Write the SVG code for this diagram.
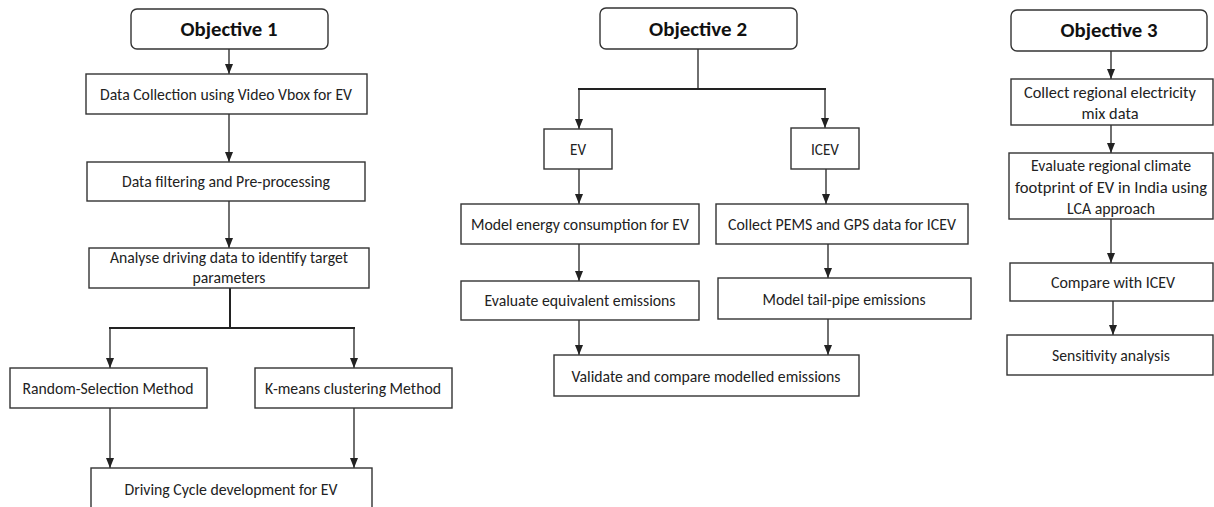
<svg xmlns="http://www.w3.org/2000/svg" width="1214" height="507" viewBox="0 0 1214 507">
<defs>
<marker id="ah" viewBox="0 0 10 8" refX="10" refY="4" markerWidth="10" markerHeight="8" markerUnits="userSpaceOnUse" orient="auto">
<path d="M0,0 L10,4 L0,8 z" fill="#222"/>
</marker>
<style>
.box{fill:#fff;stroke:#333;stroke-width:1.4}
.obj{fill:#fff;stroke:#333;stroke-width:1.4}
.t{font-family:"Carlito","Lato","Liberation Sans",sans-serif;font-size:16px;fill:#222;text-anchor:middle}
.h{font-family:"Carlito","Lato","Liberation Sans",sans-serif;font-size:20px;font-weight:bold;fill:#111;text-anchor:middle}
.c{fill:none;stroke:#222;stroke-width:1.3}
.a{fill:none;stroke:#222;stroke-width:1.3;marker-end:url(#ah)}
.b{fill:none;stroke:#222;stroke-width:2}
</style>
</defs>
<rect width="1214" height="507" fill="#fff"/>
<g id="connectors">
<line class="a" x1="229" y1="49" x2="229" y2="74"/>
<line class="a" x1="229" y1="114" x2="229" y2="162"/>
<line class="a" x1="229" y1="201" x2="229" y2="248"/>
<line class="b" x1="230" y1="288" x2="230" y2="328"/>
<line class="b" x1="109" y1="328" x2="355" y2="328"/>
<line class="a" x1="110" y1="328" x2="110" y2="368"/>
<line class="a" x1="354" y1="328" x2="354" y2="368"/>
<line class="a" x1="110" y1="408" x2="110" y2="468"/>
<line class="a" x1="354" y1="408" x2="354" y2="468"/>
<line class="c" x1="698" y1="49" x2="698" y2="89"/>
<line class="b" x1="578" y1="89" x2="826" y2="89"/>
<line class="a" x1="579" y1="89" x2="579" y2="129"/>
<line class="a" x1="825" y1="89" x2="825" y2="128"/>
<line class="a" x1="579" y1="169" x2="579" y2="204"/>
<line class="a" x1="826" y1="169" x2="826" y2="204"/>
<line class="a" x1="579" y1="244" x2="579" y2="281"/>
<line class="a" x1="828" y1="244" x2="828" y2="278"/>
<line class="a" x1="579" y1="320" x2="579" y2="355"/>
<line class="a" x1="828" y1="319" x2="828" y2="355"/>
<line class="a" x1="1111" y1="51" x2="1111" y2="79"/>
<line class="a" x1="1111" y1="125" x2="1111" y2="153"/>
<line class="a" x1="1111" y1="219" x2="1111" y2="263"/>
<line class="a" x1="1113" y1="301" x2="1113" y2="335"/>
</g>
<g id="objective1">
<rect class="obj" x="131" y="9" width="197" height="40" rx="6"/>
<text class="h" x="229" y="36" textLength="97" lengthAdjust="spacingAndGlyphs">Objective 1</text>
</g>
<g id="data-collection">
<rect class="box" x="86" y="74" width="281" height="40"/>
<text class="t" x="226" y="100" textLength="252" lengthAdjust="spacingAndGlyphs">Data Collection using Video Vbox for EV</text>
</g>
<g id="data-filtering">
<rect class="box" x="87" y="162" width="278" height="39"/>
<text class="t" x="226" y="187" textLength="208" lengthAdjust="spacingAndGlyphs">Data filtering and Pre-processing</text>
</g>
<g id="analyse">
<rect class="box" x="89" y="248" width="280" height="40"/>
<text class="t" x="229" y="263" textLength="238" lengthAdjust="spacingAndGlyphs">Analyse driving data to identify target</text>
<text class="t" x="229" y="283" textLength="73" lengthAdjust="spacingAndGlyphs">parameters</text>
</g>
<g id="random-selection">
<rect class="box" x="10" y="368" width="197" height="40"/>
<text class="t" x="108" y="394" textLength="171" lengthAdjust="spacingAndGlyphs">Random-Selection Method</text>
</g>
<g id="kmeans">
<rect class="box" x="255" y="368" width="197" height="40"/>
<text class="t" x="353" y="394" textLength="176" lengthAdjust="spacingAndGlyphs">K-means clustering Method</text>
</g>
<g id="driving-cycle">
<rect class="box" x="91" y="468" width="281" height="42"/>
<text class="t" x="231" y="495" textLength="213" lengthAdjust="spacingAndGlyphs">Driving Cycle development for EV</text>
</g>
<g id="objective2">
<rect class="obj" x="600" y="8" width="197" height="41" rx="6"/>
<text class="h" x="698" y="36" textLength="98" lengthAdjust="spacingAndGlyphs">Objective 2</text>
</g>
<g id="ev">
<rect class="box" x="544" y="129" width="68" height="40"/>
<text class="t" x="578" y="155" textLength="16" lengthAdjust="spacingAndGlyphs">EV</text>
</g>
<g id="icev">
<rect class="box" x="791" y="128" width="68" height="41"/>
<text class="t" x="825" y="155" textLength="28" lengthAdjust="spacingAndGlyphs">ICEV</text>
</g>
<g id="model-energy">
<rect class="box" x="461" y="204" width="238" height="40"/>
<text class="t" x="580" y="230" textLength="218" lengthAdjust="spacingAndGlyphs">Model energy consumption for EV</text>
</g>
<g id="collect-pems">
<rect class="box" x="716" y="204" width="252" height="40"/>
<text class="t" x="842" y="230" textLength="228" lengthAdjust="spacingAndGlyphs">Collect PEMS and GPS data for ICEV</text>
</g>
<g id="evaluate-equivalent">
<rect class="box" x="461" y="281" width="238" height="39"/>
<text class="t" x="580" y="306" textLength="191" lengthAdjust="spacingAndGlyphs">Evaluate equivalent emissions</text>
</g>
<g id="model-tailpipe">
<rect class="box" x="718" y="278" width="253" height="41"/>
<text class="t" x="844" y="305" textLength="163" lengthAdjust="spacingAndGlyphs">Model tail-pipe emissions</text>
</g>
<g id="validate">
<rect class="box" x="554" y="355" width="305" height="41"/>
<text class="t" x="706" y="382" textLength="269" lengthAdjust="spacingAndGlyphs">Validate and compare modelled emissions</text>
</g>
<g id="objective3">
<rect class="obj" x="1011" y="10" width="196" height="41" rx="6"/>
<text class="h" x="1109" y="37" textLength="97" lengthAdjust="spacingAndGlyphs">Objective 3</text>
</g>
<g id="collect-regional">
<rect class="box" x="1011" y="79" width="202" height="46"/>
<text class="t" x="1110" y="98" textLength="172" lengthAdjust="spacingAndGlyphs">Collect regional electricity</text>
<text class="t" x="1110" y="119" textLength="57" lengthAdjust="spacingAndGlyphs">mix data</text>
</g>
<g id="evaluate-regional">
<rect class="box" x="1009" y="153" width="204" height="66"/>
<text class="t" x="1111" y="171" textLength="160" lengthAdjust="spacingAndGlyphs">Evaluate regional climate</text>
<text class="t" x="1111" y="193" textLength="192" lengthAdjust="spacingAndGlyphs">footprint of EV in India using</text>
<text class="t" x="1111" y="214" textLength="88" lengthAdjust="spacingAndGlyphs">LCA approach</text>
</g>
<g id="compare-icev">
<rect class="box" x="1010" y="263" width="203" height="38"/>
<text class="t" x="1113" y="288" textLength="124" lengthAdjust="spacingAndGlyphs">Compare with ICEV</text>
</g>
<g id="sensitivity">
<rect class="box" x="1007" y="335" width="206" height="40"/>
<text class="t" x="1111" y="361" textLength="118" lengthAdjust="spacingAndGlyphs">Sensitivity analysis</text>
</g>
</svg>
